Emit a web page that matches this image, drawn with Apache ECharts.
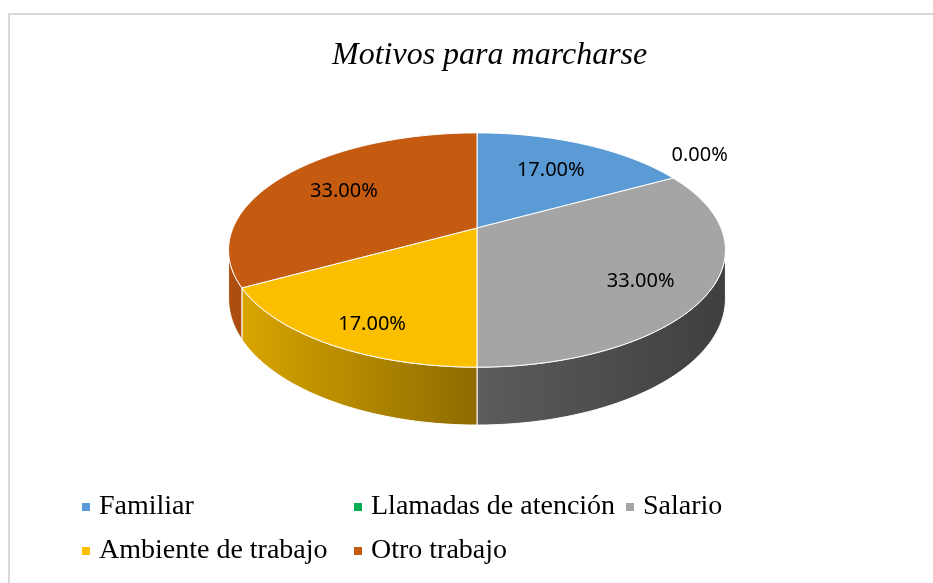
<!DOCTYPE html>
<html>
<head>
<meta charset="utf-8">
<script src="https://cdn.jsdelivr.net/npm/echarts@6/dist/echarts.min.js"></script>
<style>
    html, body { margin: 0; padding: 0; background: #fff; }
    #main { width: 933px; height: 583px; }
</style>
</head>
<body>
<div id="main"></div>
<script>
// datos del grafico
var categories = ['Familiar', 'Llamadas de atención', 'Salario', 'Ambiente de trabajo', 'Otro trabajo'];
var values = [17, 0, 33, 17, 33];
var colors = ['#5B9BD5', '#00B050', '#A5A5A5', '#FBBF00', '#C55A11'];

// geometria de la tarta inclinada (perspectiva simple)
var CX = 477, CY = 228, RX = 244, RY = 113, K = 0.188, DEPTH = 47;
var SIL = Math.asin(K) * 180 / Math.PI; // angulo de la silueta lateral
var total = values.reduce(function (a, b) { return a + b; }, 0);

// angulo en grados, horario desde arriba; r relativo al radio
function proj(phi, r, dy) {
    var rad = phi * Math.PI / 180;
    var X = r * Math.sin(rad), Z = r * Math.cos(rad);
    var w = 1 + K * Z;
    return [CX + RX * X / w, CY - RY * Z / w + (dy || 0) / w];
}

function arc(a0, a1, dy) {
    var pts = [];
    var n = Math.max(2, Math.ceil(a1 - a0));
    for (var i = 0; i <= n; i++) {
        pts.push(proj(a0 + (a1 - a0) * i / n, 1, dy));
    }
    return pts;
}

function shade(hex, f) {
    var n = parseInt(hex.slice(1), 16);
    var r = Math.round(((n >> 16) & 255) * f), g = Math.round(((n >> 8) & 255) * f), b = Math.round((n & 255) * f);
    return 'rgb(' + r + ',' + g + ',' + b + ')';
}

function renderSlice(params, api) {
    var i = params.dataIndex;
    var before = 0;
    for (var j = 0; j < i; j++) before += values[j];
    var start = before / total * 360;
    var end = start + values[i] / total * 360;
    var mid = (start + end) / 2;
    var children = [];

    if (values[i] > 0) {
        // pared lateral, solo la parte frontal visible
        var s0 = Math.max(start, 90 + SIL), s1 = Math.min(end, 270 - SIL);
        if (s1 > s0) {
            var side = arc(s0, s1, 0).concat(arc(s0, s1, DEPTH).reverse());
            children.push({
                type: 'polygon',
                shape: { points: side },
                style: {
                    fill: {
                        type: 'linear', x: CX - RX - 5, y: 0, x2: CX + RX + 5, y2: 0, global: true,
                        colorStops: [
                            { offset: 0, color: shade(colors[i], 0.88) },
                            { offset: 0.5, color: shade(colors[i], 0.56) },
                            { offset: 1, color: shade(colors[i], 0.38) }
                        ]
                    },
                    stroke: '#fff',
                    lineWidth: 1,
                    lineJoin: 'round'
                }
            });
        }
        // cara superior
        children.push({
            type: 'polygon',
            shape: { points: [[CX, CY]].concat(arc(start, end, 0)) },
            style: { fill: colors[i], stroke: '#fff', lineWidth: 1, lineJoin: 'round' }
        });
    }

    // etiqueta de porcentaje
    var pos;
    var c = Math.cos(mid * Math.PI / 180);
    if (values[i] > 0) {
        pos = proj(mid, 0.7 - 0.05 * c, 0);
        pos[1] += DEPTH * 0.35 * Math.max(0, -c);
    } else {
        pos = proj(mid, 1.15, 0);
        pos[1] -= 16;
    }
    children.push({
        type: 'text',
        style: {
            text: (values[i] / total * 100).toFixed(2) + '%',
            x: pos[0],
            y: pos[1],
            align: 'center',
            verticalAlign: 'middle',
            fill: '#000',
            fontFamily: 'Noto Sans',
            fontSize: 20
        }
    });
    return { type: 'group', children: children };
}

var legendCommon = {
    orient: 'vertical',
    top: 491,
    padding: 0,
    icon: 'rect',
    itemWidth: 8,
    itemHeight: 8,
    itemGap: 12,
    selectedMode: false,
    textStyle: {
        fontFamily: 'Liberation Serif',
        fontSize: 28,
        lineHeight: 32,
        color: '#000',
        padding: [0, 0, 0, 4]
    }
};

var option = {
    backgroundColor: '#fff',
    animation: false,
    title: {
        text: 'Motivos para marcharse',
        left: 332,
        top: 40,
        padding: 0,
        textStyle: {
            fontFamily: 'Liberation Serif',
            fontStyle: 'italic',
            fontWeight: 'normal',
            fontSize: 32,
            color: '#000'
        }
    },
    graphic: [{
        type: 'rect',
        shape: { x: 9, y: 14, width: 1000, height: 1000 },
        style: { fill: 'none', stroke: '#d9d9d9', lineWidth: 2 },
        silent: true
    }],
    legend: [
        Object.assign({}, legendCommon, { left: 82, data: [categories[0], categories[3]] }),
        Object.assign({}, legendCommon, { left: 354, data: [categories[1], categories[4]] }),
        Object.assign({}, legendCommon, { left: 626, data: [categories[2]] })
    ],
    series: [
        {
            // solo para la leyenda
            type: 'pie',
            radius: [0, 0],
            silent: true,
            label: { show: false },
            labelLine: { show: false },
            data: categories.map(function (name, i) {
                return { name: name, value: values[i], itemStyle: { color: colors[i] } };
            })
        },
        {
            type: 'custom',
            coordinateSystem: 'none',
            silent: true,
            renderItem: renderSlice,
            data: categories.map(function (name, i) {
                return { name: name, value: values[i] };
            })
        }
    ]
};

var chart = echarts.init(document.getElementById('main'));
chart.setOption(option);
</script>
</body>
</html>
